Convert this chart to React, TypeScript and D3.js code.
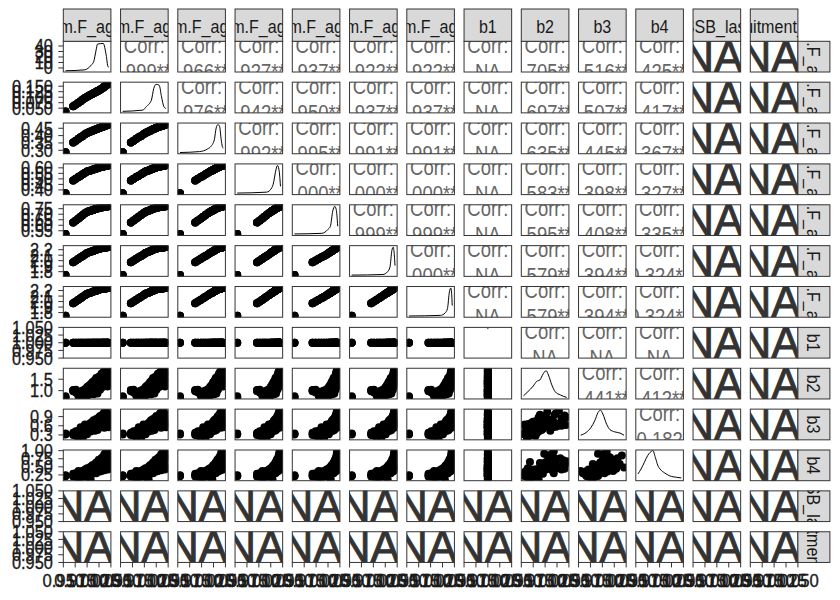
import React from "react";
import * as d3 from "d3";

// ---------- variable names ----------
const varLabels = [
  "sum.F_age1", "sum.F_age2", "sum.F_age3", "sum.F_age4", "sum.F_age5", "sum.F_age6", "sum.F_age7",
  "b1", "b2", "b3", "b4", "SSB_last", "recruitment_dev",
];

// ---------- observations (3 replicate blocks of 26 fishing levels) ----------
const mF_age1 = [
  -4.8, 4.3, 7.4, 10.4, 13.0, 15.5, 18.1, 20.6, 22.6, 24.7, 26.7, 28.2, 29.7, 31.3, 32.8, 34.3, 35.8, 37.4, 38.9, 39.9, 40.9, 41.9, 43.0, 44.0, 45.0, 46.0,
  -4.8, 4.3, 7.4, 10.4, 13.0, 15.5, 18.1, 20.6, 22.6, 24.7, 26.7, 28.2, 29.7, 31.3, 32.8, 34.3, 35.8, 37.4, 38.9, 39.9, 40.9, 41.9, 43.0, 44.0, 45.0, 46.0,
  -4.8, 4.3, 7.4, 10.4, 13.0, 15.5, 18.1, 20.6, 22.6, 24.7, 26.7, 28.2, 29.7, 31.3, 32.8, 34.3, 35.8, 37.4, 38.9, 39.9, 40.9, 41.9, 43.0, 44.0, 45.0, 46.0,
];
const mF_age2 = [
  0.035, 0.059, 0.067, 0.075, 0.082, 0.089, 0.096, 0.102, 0.106, 0.111, 0.115, 0.118, 0.121, 0.124, 0.128, 0.131, 0.134, 0.138, 0.142, 0.145, 0.148, 0.151, 0.154, 0.156, 0.159, 0.162,
  0.035, 0.059, 0.067, 0.075, 0.082, 0.089, 0.096, 0.102, 0.106, 0.111, 0.115, 0.118, 0.121, 0.124, 0.128, 0.131, 0.134, 0.138, 0.142, 0.145, 0.148, 0.151, 0.154, 0.156, 0.159, 0.162,
  0.035, 0.059, 0.067, 0.075, 0.082, 0.089, 0.096, 0.102, 0.106, 0.111, 0.115, 0.118, 0.121, 0.124, 0.128, 0.131, 0.134, 0.138, 0.142, 0.145, 0.148, 0.151, 0.154, 0.156, 0.159, 0.162,
];
const mF_age3 = [
  0.286, 0.353, 0.365, 0.378, 0.388, 0.398, 0.409, 0.418, 0.423, 0.428, 0.432, 0.436, 0.439, 0.443, 0.446, 0.450, 0.453, 0.457, 0.460, 0.462, 0.465, 0.467, 0.469, 0.471, 0.474, 0.476,
  0.286, 0.353, 0.365, 0.378, 0.388, 0.398, 0.409, 0.418, 0.423, 0.428, 0.432, 0.436, 0.439, 0.443, 0.446, 0.450, 0.453, 0.457, 0.460, 0.462, 0.465, 0.467, 0.469, 0.471, 0.474, 0.476,
  0.286, 0.353, 0.365, 0.378, 0.388, 0.398, 0.409, 0.418, 0.423, 0.428, 0.432, 0.436, 0.439, 0.443, 0.446, 0.450, 0.453, 0.457, 0.460, 0.462, 0.465, 0.467, 0.469, 0.471, 0.474, 0.476,
];
const mF_age4 = [
  0.370, 0.486, 0.502, 0.517, 0.529, 0.542, 0.555, 0.566, 0.571, 0.576, 0.582, 0.586, 0.590, 0.594, 0.597, 0.601, 0.605, 0.608, 0.611, 0.612, 0.614, 0.616, 0.618, 0.619, 0.621, 0.623,
  0.370, 0.486, 0.502, 0.517, 0.529, 0.542, 0.555, 0.566, 0.571, 0.576, 0.582, 0.586, 0.590, 0.594, 0.597, 0.601, 0.605, 0.608, 0.611, 0.612, 0.614, 0.616, 0.618, 0.619, 0.621, 0.623,
  0.370, 0.486, 0.502, 0.517, 0.529, 0.542, 0.555, 0.566, 0.571, 0.576, 0.582, 0.586, 0.590, 0.594, 0.597, 0.601, 0.605, 0.608, 0.611, 0.612, 0.614, 0.616, 0.618, 0.619, 0.621, 0.623,
];
const mF_age5 = [
  0.520, 0.626, 0.644, 0.662, 0.678, 0.693, 0.708, 0.721, 0.726, 0.732, 0.737, 0.741, 0.745, 0.749, 0.753, 0.757, 0.760, 0.762, 0.764, 0.765, 0.767, 0.768, 0.769, 0.770, 0.772, 0.773,
  0.520, 0.626, 0.644, 0.662, 0.678, 0.693, 0.708, 0.721, 0.726, 0.732, 0.737, 0.741, 0.745, 0.749, 0.753, 0.757, 0.760, 0.762, 0.764, 0.765, 0.767, 0.768, 0.769, 0.770, 0.772, 0.773,
  0.520, 0.626, 0.644, 0.662, 0.678, 0.693, 0.708, 0.721, 0.726, 0.732, 0.737, 0.741, 0.745, 0.749, 0.753, 0.757, 0.760, 0.762, 0.764, 0.765, 0.767, 0.768, 0.769, 0.770, 0.772, 0.773,
];
const mF_age6 = [
  1.740, 1.969, 2.001, 2.034, 2.061, 2.087, 2.114, 2.139, 2.150, 2.161, 2.172, 2.181, 2.189, 2.198, 2.206, 2.214, 2.223, 2.227, 2.230, 2.233, 2.235, 2.238, 2.240, 2.243, 2.245, 2.248,
  1.740, 1.969, 2.001, 2.034, 2.061, 2.087, 2.114, 2.139, 2.150, 2.161, 2.172, 2.181, 2.189, 2.198, 2.206, 2.214, 2.223, 2.227, 2.230, 2.233, 2.235, 2.238, 2.240, 2.243, 2.245, 2.248,
  1.740, 1.969, 2.001, 2.034, 2.061, 2.087, 2.114, 2.139, 2.150, 2.161, 2.172, 2.181, 2.189, 2.198, 2.206, 2.214, 2.223, 2.227, 2.230, 2.233, 2.235, 2.238, 2.240, 2.243, 2.245, 2.248,
];
const mF_age7 = [
  1.741, 1.970, 2.002, 2.034, 2.062, 2.088, 2.114, 2.140, 2.151, 2.161, 2.173, 2.181, 2.190, 2.198, 2.207, 2.214, 2.223, 2.227, 2.231, 2.233, 2.236, 2.238, 2.241, 2.243, 2.246, 2.248,
  1.741, 1.970, 2.002, 2.034, 2.062, 2.088, 2.114, 2.140, 2.151, 2.161, 2.173, 2.181, 2.190, 2.198, 2.207, 2.214, 2.223, 2.227, 2.231, 2.233, 2.236, 2.238, 2.241, 2.243, 2.246, 2.248,
  1.741, 1.970, 2.002, 2.034, 2.062, 2.088, 2.114, 2.140, 2.151, 2.161, 2.173, 2.181, 2.190, 2.198, 2.207, 2.214, 2.223, 2.227, 2.231, 2.233, 2.236, 2.238, 2.241, 2.243, 2.246, 2.248,
];
const b1 = [
  1, 1, 1, 1, 1, 1, 1, 1, 1, 1, 1, 1, 1, 1, 1, 1, 1, 1, 1, 1, 1, 1, 1, 1, 1, 1,
  1, 1, 1, 1, 1, 1, 1, 1, 1, 1, 1, 1, 1, 1, 1, 1, 1, 1, 1, 1, 1, 1, 1, 1, 1, 1,
  1, 1, 1, 1, 1, 1, 1, 1, 1, 1, 1, 1, 1, 1, 1, 1, 1, 1, 1, 1, 1, 1, 1, 1, 1, 1,
];
const b2 = [
  0.697, 1.003, 0.966, 0.819, 0.880, 0.795, 0.844, 0.942, 0.819, 1.125, 0.966, 1.186, 1.064, 1.370, 1.211, 1.431, 1.309, 1.529, 1.406, 1.614, 1.492, 1.700, 1.553, 1.920, 1.773, 1.578,
  0.721, 1.027, 1.039, 0.917, 0.966, 1.003, 1.064, 1.162, 1.064, 0.917, 1.247, 0.844, 1.309, 1.003, 1.492, 1.125, 1.578, 1.247, 1.675, 1.333, 1.773, 1.431, 1.859, 1.651, 1.455, 1.822,
  0.758, 0.978, 0.917, 0.770, 0.758, 0.880, 0.734, 0.795, 1.211, 1.284, 1.370, 1.406, 1.455, 1.553, 0.880, 1.614, 1.039, 1.737, 1.162, 1.822, 1.247, 1.896, 1.309, 1.370, 1.186, 1.284,
];
const b3 = [
  0.331, 0.295, 0.368, 0.231, 0.460, 0.185, 0.551, 0.322, 0.643, 0.414, 0.734, 0.505, 0.597, 0.826, 0.460, 0.688, 0.917, 0.551, 0.780, 1.009, 0.643, 1.100, 0.734, 0.871, 0.597, 0.963,
  0.350, 0.331, 0.277, 0.441, 0.295, 0.505, 0.350, 0.597, 0.414, 0.688, 0.505, 0.661, 0.752, 0.551, 0.716, 0.871, 0.643, 0.807, 0.597, 0.716, 0.844, 0.752, 0.935, 0.661, 0.807, 0.688,
  0.313, 0.368, 0.423, 0.322, 0.551, 0.386, 0.643, 0.460, 0.533, 0.569, 0.624, 0.780, 0.441, 0.688, 0.624, 0.569, 0.752, 0.661, 0.963, 0.826, 0.533, 0.624, 0.597, 1.054, 0.716, 0.551,
];
const b4 = [
  0.227, 0.244, 0.201, 0.305, 0.158, 0.374, 0.218, 0.287, 0.460, 0.115, 0.391, 0.546, 0.331, 0.632, 0.443, 0.718, 0.503, 0.374, 0.805, 0.589, 0.891, 0.477, 0.977, 0.675, 0.417, 0.762,
  0.244, 0.287, 0.305, 0.158, 0.356, 0.218, 0.417, 0.460, 0.244, 0.391, 0.287, 0.356, 0.477, 0.417, 0.529, 0.374, 0.675, 0.563, 0.460, 0.417, 0.529, 0.736, 0.443, 0.503, 0.787, 0.477,
  0.210, 0.201, 0.270, 0.374, 0.244, 0.287, 0.331, 0.184, 0.374, 0.503, 0.546, 0.443, 0.589, 0.305, 0.649, 0.503, 0.356, 0.762, 0.615, 0.701, 0.391, 0.589, 0.632, 0.848, 0.546, 0.908,
];

// ---------- diagonal densities (x in variable units, y relative height) ----------
const densF1x = [-4.8, 17.8, 21.7, 25.6, 28.4, 31.2, 32.9, 39.6, 43.0, 45.2, 46.0];
const densF1y = [0.04, 0.07, 0.12, 0.23, 0.34, 0.72, 0.91, 0.93, 0.55, 0.17, 0.16];
const densF2x = [0.035, 0.094, 0.104, 0.119, 0.126, 0.133, 0.142, 0.149, 0.156, 0.162];
const densF2y = [0.05, 0.09, 0.20, 0.41, 0.79, 0.93, 0.90, 0.52, 0.20, 0.14];
const densF3x = [0.286, 0.372, 0.408, 0.422, 0.437, 0.445, 0.453, 0.460, 0.467, 0.472, 0.476];
const densF3y = [0.04, 0.07, 0.16, 0.24, 0.46, 0.84, 0.95, 0.89, 0.46, 0.24, 0.18];
const densF4x = [0.370, 0.541, 0.572, 0.580, 0.597, 0.605, 0.614, 0.623];
const densF4y = [0.05, 0.08, 0.22, 0.33, 0.82, 0.95, 0.82, 0.27];
const densF5x = [0.520, 0.680, 0.716, 0.730, 0.744, 0.755, 0.764, 0.773];
const densF5y = [0.05, 0.07, 0.20, 0.30, 0.80, 0.95, 0.85, 0.30];
const densF6x = [1.740, 2.106, 2.161, 2.189, 2.212, 2.228, 2.240, 2.248];
const densF6y = [0.04, 0.06, 0.15, 0.30, 0.85, 0.95, 0.70, 0.35];
const densF7x = [1.741, 2.110, 2.165, 2.192, 2.215, 2.231, 2.242, 2.248];
const densF7y = [0.04, 0.06, 0.14, 0.28, 0.83, 0.95, 0.72, 0.38];
const densB1x = [1.0];
const densB1y = [0.96];
const densB2x = [0.697, 0.824, 0.973, 1.067, 1.161, 1.255, 1.336, 1.403, 1.497, 1.592, 1.740, 1.920];
const densB2y = [0.10, 0.24, 0.42, 0.57, 0.62, 0.82, 0.92, 0.78, 0.46, 0.24, 0.13, 0.05];
const densB3x = [0.185, 0.300, 0.401, 0.481, 0.552, 0.602, 0.653, 0.733, 0.804, 0.904, 1.015, 1.100];
const densB3y = [0.15, 0.24, 0.40, 0.62, 0.89, 0.97, 0.84, 0.51, 0.33, 0.26, 0.22, 0.15];
const densB4x = [0.115, 0.176, 0.243, 0.309, 0.356, 0.413, 0.461, 0.508, 0.555, 0.650, 0.745, 0.887, 0.977];
const densB4y = [0.22, 0.38, 0.60, 0.82, 0.92, 0.98, 0.76, 0.51, 0.38, 0.25, 0.16, 0.11, 0.09];

// ---------- correlation labels (upper triangle, row by row) ----------
const corrRow1 = ["0.999***", "0.966***", "0.927***", "0.937***", "0.922***", "0.922***", "NA", "0.705***", "0.516***", "0.425***"];
const corrRow2 = ["0.976***", "0.942***", "0.950***", "0.937***", "0.937***", "NA", "0.697***", "0.507***", "0.417***"];
const corrRow3 = ["0.992***", "0.995***", "0.991***", "0.991***", "NA", "0.635***", "0.445***", "0.367***"];
const corrRow4 = ["1.000***", "1.000***", "1.000***", "NA", "0.583***", "0.398***", "0.327***"];
const corrRow5 = ["0.999***", "0.999***", "NA", "0.595***", "0.408***", "0.335***"];
const corrRow6 = ["1.000***", "NA", "0.579***", "0.394***", "0.324**"];
const corrRow7 = ["NA", "0.579***", "0.394***", "0.324**"];
const corrRow8 = ["NA", "NA", "NA"];
const corrRow9 = ["0.441***", "0.412***"];
const corrRow10 = ["0.182"];

// ---------- axis ticks ----------
const ticksF1 = [0, 10, 20, 30, 40];
const ticksF2 = [0.05, 0.075, 0.1, 0.125, 0.15];
const ticksF3 = [0.3, 0.35, 0.4, 0.45];
const ticksF4 = [0.4, 0.45, 0.5, 0.55, 0.6];
const ticksF5 = [0.55, 0.6, 0.65, 0.7, 0.75];
const ticksF6 = [1.8, 1.9, 2.0, 2.1, 2.2];
const ticksF7 = [1.8, 1.9, 2.0, 2.1, 2.2];
const ticksNA = [0.95, 0.975, 1.0, 1.025, 1.05];
const ticksB2 = [1.0, 1.5];
const ticksB3 = [0.3, 0.6, 0.9];
const ticksB4 = [0.25, 0.5, 0.75, 1.0];
const tickDigits = [0, 3, 2, 2, 2, 1, 1, 3, 1, 1, 2, 3, 3];

const FONT = "'Liberation Sans', Arial, Helvetica, sans-serif";

function SText(props: {
  x: number; y: number; text: string; size: number; anchor?: string; fill?: string;
  sx?: number; rotate?: number; stroke?: number;
}) {
  const { x, y, text, size, anchor = "middle", fill = "#1a1a1a", sx = 0.85, rotate = 0, stroke = 0 } = props;
  return (
    <text
      transform={`translate(${x},${y})${rotate ? ` rotate(${rotate})` : ""} scale(${sx},1)`}
      textAnchor={anchor as any}
      fontSize={size}
      fill={fill}
      stroke={stroke ? fill : "none"}
      strokeWidth={stroke}
      fontFamily={FONT}
    >
      {text}
    </text>
  );
}

export default function App() {
  const W = 840, H = 600;
  const x0 = 63.3, xStep = 57.25, pw = 47.6;
  const y0 = 41.3, yStep = 40.87, ph = 30.7;
  const n = 13;

  const series: (number[] | null)[] = [mF_age1, mF_age2, mF_age3, mF_age4, mF_age5, mF_age6, mF_age7, b1, b2, b3, b4, null, null];
  const densX = [densF1x, densF2x, densF3x, densF4x, densF5x, densF6x, densF7x, densB1x, densB2x, densB3x, densB4x];
  const densY = [densF1y, densF2y, densF3y, densF4y, densF5y, densF6y, densF7y, densB1y, densB2y, densB3y, densB4y];
  const corrRows = [corrRow1, corrRow2, corrRow3, corrRow4, corrRow5, corrRow6, corrRow7, corrRow8, corrRow9, corrRow10];
  const ticks = [ticksF1, ticksF2, ticksF3, ticksF4, ticksF5, ticksF6, ticksF7, ticksNA, ticksB2, ticksB3, ticksB4, ticksNA, ticksNA];

  const domains = series.map((s) => {
    if (!s) return [0.95, 1.05];
    const [mn, mx] = d3.extent(s) as [number, number];
    if (mx === mn) return [mn - 0.05, mx + 0.05];
    const r = mx - mn;
    return [mn - 0.05 * r, mx + 0.05 * r];
  });
  const colLeft = (c: number) => x0 + c * xStep;
  const rowTop = (r: number) => y0 + r * yStep;
  const xScale = (c: number) => d3.scaleLinear().domain(domains[c]).range([colLeft(c), colLeft(c) + pw]);
  const yScale = (r: number) => d3.scaleLinear().domain(domains[r]).range([rowTop(r) + ph, rowTop(r)]);
  const bottomScale = (c: number) => d3.scaleLinear().domain([0.95, 1.05]).range([colLeft(c), colLeft(c) + pw]);

  const isNA = (i: number) => series[i] === null;

  const panels: React.ReactNode[] = [];
  const defs: React.ReactNode[] = [];

  for (let r = 0; r < n; r++) {
    for (let c = 0; c < n; c++) {
      const px = colLeft(c), py = rowTop(r);
      const id = `clip-${r}-${c}`;
      defs.push(
        <clipPath id={id} key={id}>
          <rect x={px} y={py} width={pw} height={ph} />
        </clipPath>
      );
      let content: React.ReactNode = null;
      if (isNA(r) || isNA(c)) {
        content = (
          <SText x={px + pw / 2 - 4} y={py + 30.5} text="NA" size={45} sx={0.97} fill="#333333" stroke={0.9} />
        );
      } else if (r === c) {
        const xs = xScale(c);
        const ys = d3.scaleLinear().domain([0, 1]).range([py + ph, py]);
        const dx = densX[c], dy = densY[c];
        if (dx.length === 1) {
          content = <rect x={xs(dx[0]) - 0.5} y={ys(dy[0]) - 0.5} width={1} height={1} fill="#000" />;
        } else {
          const line = d3.line<number>()
            .x((_, i) => xs(dx[i]))
            .y((d) => ys(d))
            .curve(d3.curveMonotoneX);
          content = <path d={line(dy) || ""} fill="none" stroke="#000" strokeWidth={1} />;
        }
      } else if (r > c) {
        const xs = xScale(c), ys = yScale(r);
        const sx = series[c]!, sy = series[r]!;
        content = (
          <g>
            {sx.map((v, i) => (
              <circle key={i} cx={xs(v)} cy={ys(sy[i])} r={4} fill="#000" />
            ))}
          </g>
        );
      } else {
        const label = corrRows[r][c - r - 1];
        content = (
          <g>
            <SText x={px + pw / 2} y={py + 11.5} text="Corr:" size={22} sx={0.84} fill="#666666" />
            <SText x={px + pw / 2} y={py + 37.5} text={label} size={22} sx={0.84} fill="#666666" />
          </g>
        );
      }
      panels.push(
        <g key={`p-${r}-${c}`}>
          <rect x={px} y={py} width={pw} height={ph} fill="#ffffff" />
          <g clipPath={`url(#${id})`}>{content}</g>
          <rect x={px} y={py} width={pw} height={ph} fill="none" stroke="#333333" strokeWidth={1} />
        </g>
      );
    }
  }

  // top strips
  const topStrips = varLabels.map((lab, c) => {
    const px = colLeft(c);
    const id = `ts-${c}`;
    defs.push(
      <clipPath id={id} key={id}>
        <rect x={px} y={9} width={pw} height={y0 - 9} />
      </clipPath>
    );
    return (
      <g key={id}>
        <rect x={px} y={9} width={pw} height={y0 - 9} fill="#d9d9d9" stroke="#333333" strokeWidth={1} />
        <g clipPath={`url(#${id})`}>
          <SText x={px + pw / 2} y={32.7} text={lab} size={18.5} sx={0.87} />
        </g>
      </g>
    );
  });

  const stripX = colLeft(n - 1) + pw;
  const rightStrips = varLabels.map((lab, r) => {
    const py = rowTop(r);
    const id = `rs-${r}`;
    defs.push(
      <clipPath id={id} key={id}>
        <rect x={stripX} y={py} width={32} height={ph} />
      </clipPath>
    );
    return (
      <g key={id}>
        <rect x={stripX} y={py} width={32} height={ph} fill="#d9d9d9" stroke="#333333" strokeWidth={1} />
        <g clipPath={`url(#${id})`}>
          <SText x={stripX + 8.6} y={py + ph / 2} text={lab} size={18.5} sx={0.87} rotate={90} />
        </g>
      </g>
    );
  });

  // left axes
  const leftAxes = ticks.map((tk, r) => {
    const ys = yScale(r);
    const fmt = d3.format(`.${tickDigits[r]}f`);
    return (
      <g key={`la-${r}`}>
        {tk.map((t, i) => (
          <g key={i}>
            <line x1={x0 - 5} x2={x0} y1={ys(t)} y2={ys(t)} stroke="#333333" strokeWidth={1} />
            <SText x={x0 - 10.5} y={ys(t) + 6.5} text={fmt(t)} size={19} sx={0.86} anchor="end" fill="#1a1a1a" stroke={0.35} />
          </g>
        ))}
      </g>
    );
  });

  // bottom axes
  const bottomY = rowTop(n - 1) + ph;
  const bottomAxes = varLabels.map((_, c) => {
    const xs = bottomScale(c);
    const fmt = d3.format(".3f");
    return (
      <g key={`ba-${c}`}>
        {ticksNA.map((t, i) => (
          <g key={i}>
            <line x1={xs(t)} x2={xs(t)} y1={bottomY} y2={bottomY + 5} stroke="#333333" strokeWidth={1} />
            <SText x={xs(t)} y={586.5} text={fmt(t)} size={19} sx={0.88} fill="#1a1a1a" stroke={0.35} />
          </g>
        ))}
      </g>
    );
  });

  return (
    <div style={{ position: "absolute", left: 0, top: 0, width: W, height: H, background: "#fff" }}>
      <svg width={W} height={H} viewBox={`0 0 ${W} ${H}`} style={{ display: "block" }}>
        <defs>{defs}</defs>
        <rect x={0} y={0} width={W} height={H} fill="#ffffff" />
        {panels}
        {topStrips}
        {rightStrips}
        {leftAxes}
        {bottomAxes}
      </svg>
    </div>
  );
}
